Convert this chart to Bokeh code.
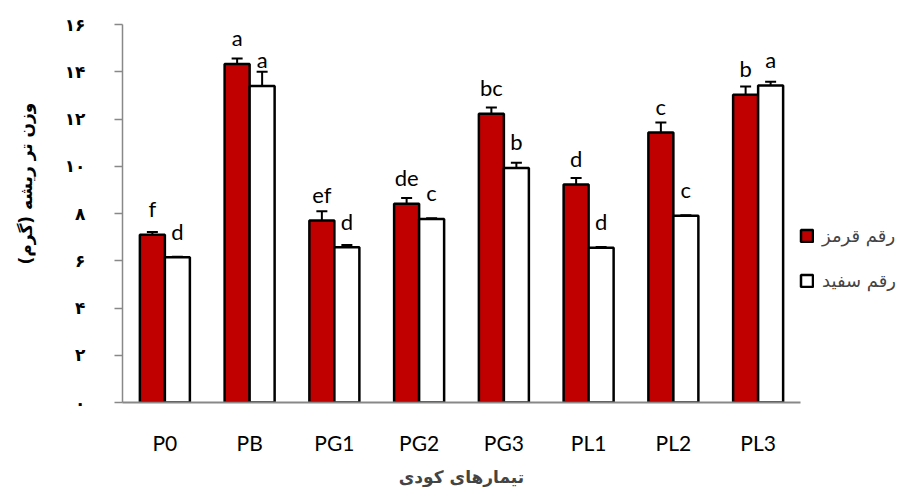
import math
from bokeh.plotting import figure
from bokeh.models import (ColumnDataSource, FactorRange, Whisker, TeeHead, Legend,
                          LegendItem, FixedTicker, LabelSet, Label)
from bokeh.transform import dodge
from bokeh.core.properties import value
from bokeh.embed import file_html
from bokeh.resources import INLINE

categories = ["P0", "PB", "PG1", "PG2", "PG3", "PL1", "PL2", "PL3"]
red_values = [7.10, 14.33, 7.70, 8.41, 12.22, 9.23, 11.43, 13.03]
white_values = [6.15, 13.40, 6.57, 7.77, 9.93, 6.55, 7.90, 13.42]
red_err = [0.12, 0.23, 0.40, 0.25, 0.27, 0.27, 0.42, 0.35]
white_err = [0.02, 0.60, 0.10, 0.03, 0.22, 0.03, 0.03, 0.16]
red_letters = ["f", "a", "ef", "de", "bc", "d", "c", "b"]
white_letters = ["d", "a", "d", "c", "b", "d", "c", "a"]
y_ticks = [0, 2, 4, 6, 8, 10, 12, 14, 16]
y_tick_labels = ["۰", "۲", "۴", "۶", "۸", "۱۰", "۱۲", "۱۴", "۱۶"]
red_name = "رقم قرمز"
white_name = "رقم سفید"
x_title = "تیمارهای کودی"
y_title = "وزن تر ریشه (گرم)"

src = ColumnDataSource(dict(
    cat=categories,
    red=red_values, white=white_values,
    red_up=[v + e for v, e in zip(red_values, red_err)],
    red_lo=[v - e for v, e in zip(red_values, red_err)],
    white_up=[v + e for v, e in zip(white_values, white_err)],
    white_lo=[v - e for v, e in zip(white_values, white_err)],
    red_lab=red_letters, white_lab=white_letters,
))

p = figure(x_range=FactorRange(*categories, range_padding=0), y_range=(0, 16),
           frame_width=678, frame_height=378,
           min_border_left=122, min_border_top=24, min_border_bottom=60,
           min_border_right=0,
           output_backend="svg", toolbar_location=None)

off = 0.1475
w = 0.295
r1 = p.vbar(x=dodge("cat", -off, range=p.x_range), top="red", width=w, source=src,
            fill_color="#C00000", line_color="black", line_width=2.5)
r2 = p.vbar(x=dodge("cat", off, range=p.x_range), top="white", width=w, source=src,
            fill_color="white", line_color="black", line_width=2.5)

for base_off, up, lo in [(-off, "red_up", "red_lo"), (off, "white_up", "white_lo")]:
    wk = Whisker(base=dodge("cat", base_off, range=p.x_range), upper=up, lower=lo,
                 source=src, line_color="black", line_width=2,
                 upper_head=TeeHead(size=11, line_color="black", line_width=2),
                 lower_head=TeeHead(size=11, line_color="black", line_width=2))
    p.add_layout(wk)

for base_off, top, lab in [(-off, "red", "red_lab"), (off, "white", "white_lab")]:
    ls = LabelSet(x=dodge("cat", base_off, range=p.x_range), y=top, text=lab,
                  source=src, y_offset=26, text_align="center",
                  text_baseline="middle", text_font=value("Lato"),
                  text_font_size=value("22px"), text_color="black")
    p.add_layout(ls)

# axes
p.xgrid.visible = False
p.ygrid.visible = False
p.outline_line_color = None

p.yaxis.ticker = FixedTicker(ticks=y_ticks)
p.yaxis.major_label_overrides = {t: l for t, l in zip(y_ticks, y_tick_labels)}
p.yaxis.axis_line_color = "#888888"
p.yaxis.axis_line_width = 1.5
p.yaxis.major_tick_line_color = "#888888"
p.yaxis.major_tick_line_width = 1.5
p.yaxis.major_tick_out = 8
p.yaxis.major_tick_in = 0
p.yaxis.minor_tick_line_color = None
p.yaxis.major_label_standoff = 29
p.yaxis.major_label_text_font = "DejaVu Sans"
p.yaxis.major_label_text_font_style = "bold"
p.yaxis.major_label_text_font_size = "17px"
p.yaxis.major_label_text_color = "black"

ytitle = Label(x=-16, y=219, x_units="screen", y_units="screen", text=y_title,
               angle=math.pi / 2, text_align="center", text_baseline="middle",
               text_font="DejaVu Sans", text_font_style="bold",
               text_font_size="17px", text_color="black")
p.add_layout(ytitle, "left")

p.xaxis.axis_line_color = "#888888"
p.xaxis.axis_line_width = 2
p.xaxis.major_tick_line_color = None
p.xaxis.minor_tick_line_color = None
p.xaxis.major_tick_out = 0
p.xaxis.major_label_standoff = 27
p.xaxis.major_label_text_font = "Lato"
p.xaxis.major_label_text_font_size = "21px"
p.xaxis.major_label_text_color = "black"
p.xaxis.axis_label = x_title
p.xaxis.axis_label_text_font = "DejaVu Sans"
p.xaxis.axis_label_text_font_style = "bold"
p.xaxis.axis_label_text_font_size = "17px"
p.xaxis.axis_label_standoff = 9

legend = Legend(items=[LegendItem(label=red_name, renderers=[r1]),
                       LegendItem(label=white_name, renderers=[r2])],
                location=(-1, 111), orientation="vertical",
                border_line_color=None, background_fill_alpha=0,
                glyph_width=15, glyph_height=15, label_height=22,
                label_standoff=8, spacing=23, padding=0, margin=0,
                label_text_font="DejaVu Sans", label_text_font_size="18px")
p.add_layout(legend, "right")

open("out.html", "w").write(file_html(p, INLINE))
